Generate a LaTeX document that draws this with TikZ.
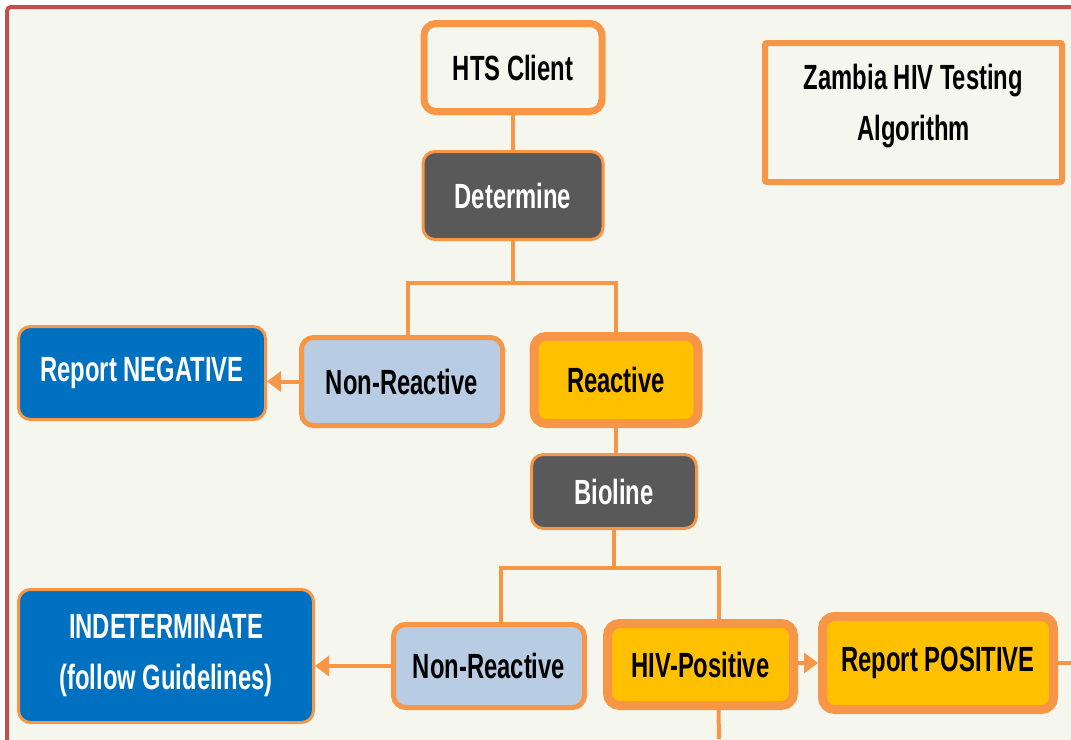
\documentclass[tikz,border=0pt]{standalone}
\usepackage{fontspec}
\setmainfont[FakeStretch=0.68]{Liberation Sans}
\usetikzlibrary{arrows.meta}
\definecolor{frame}{HTML}{C0504D}
\definecolor{paper}{HTML}{F5F6EE}
\definecolor{edge}{HTML}{F79646}
\definecolor{kit}{HTML}{595959}
\definecolor{result}{HTML}{0070C0}
\definecolor{nonreact}{HTML}{B8CCE4}
\definecolor{react}{HTML}{FFC000}
\begin{document}
\begin{tikzpicture}[x=0.5pt,y=-0.5pt,
	box/.style={draw=edge,rounded corners=6pt,inner sep=0pt,align=center,
		font=\fontsize{17.5}{25.5}\selectfont\bfseries},
	client/.style={box,fill=paper,line width=3.5pt},
	testkit/.style={box,fill=kit,text=white,line width=1.5pt},
	report/.style={box,fill=result,text=white,line width=1.5pt},
	nonbox/.style={box,fill=nonreact,line width=2.5pt},
	reactbox/.style={box,fill=react,line width=4.5pt},
	link/.style={draw=edge,line width=2pt},
	arrow/.style={link,-{Triangle[length=7pt,width=10pt]}}]
	\clip (0,0) rectangle (1071,739);
	\fill[white] (0,0) rectangle (1071,739);
	\draw[frame,fill=paper,line width=2pt,rounded corners=2pt] (7,7) rectangle (1090,760);
	\node[client,minimum width=89pt,minimum height=44pt] (hts) at (513,67.5) {HTS Client};
	\node[testkit,minimum width=90pt,minimum height=44pt] (det) at (513,195.5) {Determine};
	\node[report,minimum width=123.5pt,minimum height=46.5pt] (neg) at (142,373) {Report NEGATIVE};
	\node[nonbox,minimum width=100.5pt,minimum height=44pt] (nr1) at (402,381.5) {Non-Reactive};
	\node[reactbox,minimum width=82pt,minimum height=43.5pt] (re) at (616,380) {Reactive};
	\node[testkit,minimum width=82.5pt,minimum height=37pt] (bio) at (614,491.5) {Bioline};
	\node[report,minimum width=147.5pt,minimum height=66.5pt] (ind) at (166,656) {INDETERMINATE\\(follow Guidelines)};
	\node[nonbox,minimum width=95.5pt,minimum height=41.5pt] (nr2) at (489,666) {Non-Reactive};
	\node[reactbox,minimum width=93pt,minimum height=41pt] (pos) at (700.5,664.5) {HIV-Positive};
	\node[reactbox,minimum width=115.5pt,minimum height=46.5pt] (rpos) at (938,663) {Report POSITIVE};
	\node[box,rounded corners=1pt,fill=paper,line width=3pt,minimum width=148.5pt,minimum height=69.5pt] (title) at (913.5,112.5) {};
	\node[font=\fontsize{17.5}{25.5}\selectfont\bfseries,align=center] (heading) at (913.5,106) {Zambia HIV Testing\\Algorithm};
	\coordinate (split1) at (513,283);
	\coordinate (split2) at (614,568);
	\coordinate (onward) at (1071,663);
	\coordinate (down) at (719,739);
	\draw[link] (hts) -- (det);
	\draw[link] (det.south) -- (split1);
	\draw[link] (split1) -| ([xshift=3pt]nr1.north);
	\draw[link] (split1) -| (re.north);
	\draw[arrow] (nr1.west) -- (nr1.west -| neg.east);
	\draw[link] (re.south) -- (re.south |- bio.north);
	\draw[link] (bio.south) -- (split2);
	\draw[link] (split2) -| ([xshift=6pt]nr2.north);
	\draw[link] (split2) -| ([xshift=9pt]pos.north);
	\draw[arrow] (nr2.west) -- (nr2.west -| ind.east);
	\draw[arrow] (pos.east |- rpos.west) -- (rpos.west);
	\draw[link] (rpos.east) -- (onward);
	\draw[link] ([xshift=9pt]pos.south) -- (down);
\end{tikzpicture}
\end{document}
